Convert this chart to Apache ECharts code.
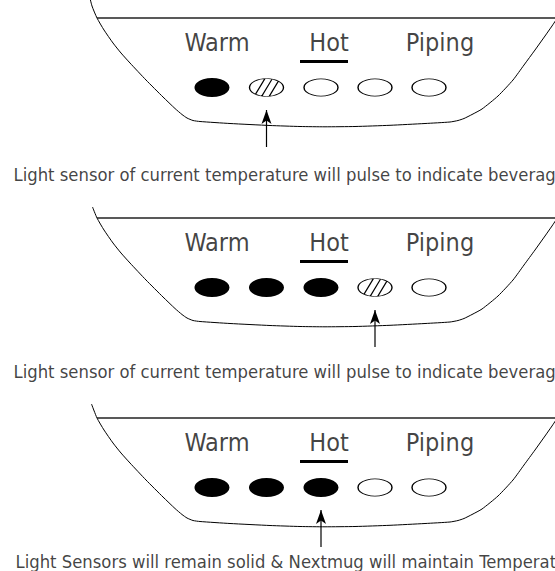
<!DOCTYPE html>
<html>
<head>
<meta charset="utf-8">
<script src="https://cdn.jsdelivr.net/npm/echarts@6/dist/echarts.min.js"></script>
<style>
html, body { margin: 0; padding: 0; background: #fff; }
#chart { width: 555px; height: 571px; }
</style>
</head>
<body>
<div id="chart"></div>
<script>
// three panels stacked, offsets in axis units (1 unit = 1px)
var panelOffsets = [0, 200, 400];

var tempLabels = ['Warm', 'Hot', 'Piping'];
var tempLabelX = [217, 329, 440];
var tempLabelY = 42;

var ledX = [212, 266.5, 321, 375, 429];
var ledY = 87.5;
// 0 = off, 1 = solid, 2 = pulsing
var ledStates = [
    [1, 2, 0, 0, 0],
    [1, 1, 1, 2, 0],
    [1, 1, 1, 0, 0]
];
var arrowLed = [1, 3, 2];
var arrowTop = 110;
var arrowBottom = 147;

var captions = [
    'Light sensor of current temperature will pulse to indicate beverage',
    'Light sensor of current temperature will pulse to indicate beverage',
    'Light Sensors will remain solid & Nextmug will maintain Temperature'
];
var captionX = [13, 13, 15];
var captionY = [174.5, 371, 561];

// bowl outline of one panel (the top end of the left side differs per panel)
var bowlLeftTop = [
    [[89, -6], [92, 6]],
    [[92.5, 7]],
    [[91.5, 4]]
];
var bowlLeft = [[97, 18], [104, 30], [113, 43], [121, 53], [130, 63], [146, 80],
    [163, 97], [175, 108.5], [182, 114.5], [187, 118], [193, 120.5], [200, 121.5]];
var bowlBottom = [[230, 123.5], [270, 125.5], [300, 126.5], [325, 126.8], [355, 126.5], [390, 125.3],
    [425, 123.5], [450, 122]];
var bowlRight = [[458, 120.5], [464, 118.5], [472, 114.5], [482, 109], [498, 96], [513, 80],
    [524, 65], [535, 50], [545, 36], [552, 26], [560, 14]];
var topLine = [[97, 18], [556, 18]];
var hotUnderline = [[300, 61.5], [348, 61.5]];

var hatchPath = 'path://M0,9C0,4.03 7.61,0 17,0C26.39,0 34,4.03 34,9C34,13.97 26.39,18 17,18' +
    'C7.61,18 0,13.97 0,9ZM5.9,15.8L15.4,0.1M12.3,17.6L22.6,0.5M19.7,17.9L28.9,2.6';

var font = "'DejaVu Sans Condensed', 'Liberation Sans', sans-serif";

var myChart = echarts.init(document.getElementById('chart'), null, {renderer: 'svg'});

var series = [];
panelOffsets.forEach(function (off, p) {
    var shift = function (pts) {
        return pts.map(function (d) { return [d[0], d[1] + off]; });
    };
    // bowl
    series.push({
        type: 'line',
        data: shift(bowlLeftTop[p].concat(bowlLeft, bowlBottom, bowlRight)),
        smooth: 0.2,
        symbol: 'none',
        lineStyle: {color: '#000', width: 1},
        z: 1
    });
    series.push({
        type: 'line',
        data: shift(topLine),
        symbol: 'none',
        lineStyle: {color: '#222', width: 1.5},
        z: 1
    });
    series.push({
        type: 'line',
        data: shift(hotUnderline),
        symbol: 'none',
        lineStyle: {color: '#000', width: 3},
        z: 1
    });
    // labels
    series.push({
        type: 'scatter',
        data: tempLabels.map(function (t, i) {
            return {name: t, value: [tempLabelX[i], tempLabelY + off]};
        }),
        symbolSize: 1,
        itemStyle: {color: 'transparent'},
        label: {
            show: true,
            position: 'inside',
            formatter: '{b}',
            fontFamily: font,
            fontSize: 25,
            color: '#111'
        },
        z: 3
    });
    // leds
    var solid = [], dark = [], pulse = [];
    ledStates[p].forEach(function (s, i) {
        var pt = [ledX[i], ledY + off];
        if (s === 1) solid.push(pt);
        else if (s === 2) pulse.push(pt);
        else dark.push(pt);
    });
    series.push({
        type: 'scatter', data: solid, symbol: 'circle', symbolSize: [35, 19],
        itemStyle: {color: '#000', opacity: 1}, z: 2
    });
    series.push({
        type: 'scatter', data: dark, symbol: 'circle', symbolSize: [34, 17],
        itemStyle: {color: '#fff', borderColor: '#000', borderWidth: 1, opacity: 1}, z: 2
    });
    series.push({
        type: 'scatter', data: pulse, symbol: hatchPath, symbolSize: [34, 18],
        itemStyle: {color: '#fff', borderColor: '#000', borderWidth: 1, opacity: 1}, z: 2
    });
    // arrow
    var ax = ledX[arrowLed[p]];
    series.push({
        type: 'line',
        data: [[ax, arrowBottom + off], [ax, arrowTop + off]],
        symbol: 'none',
        lineStyle: {color: '#000', width: 1.2},
        z: 2
    });
    series.push({
        type: 'scatter', data: [[ax, arrowTop + off]], symbol: 'arrow', symbolSize: [7.5, 14],
        itemStyle: {color: '#000', opacity: 1}, z: 3
    });
    // caption
    series.push({
        type: 'scatter',
        data: [{name: captions[p], value: [captionX[p], captionY[p]]}],
        symbolSize: 1,
        itemStyle: {color: 'transparent'},
        label: {
            show: true,
            position: 'right',
            distance: 0,
            formatter: '{b}',
            fontFamily: font,
            fontSize: 18.3,
            color: '#111'
        },
        z: 3
    });
});

myChart.setOption({
    animation: false,
    backgroundColor: '#fff',
    grid: {left: 0, right: 0, top: 0, bottom: 0, containLabel: false},
    xAxis: {type: 'value', min: 0, max: 555, show: false},
    yAxis: {type: 'value', min: 0, max: 571, inverse: true, show: false},
    tooltip: {show: false},
    series: series
});
</script>
</body>
</html>
